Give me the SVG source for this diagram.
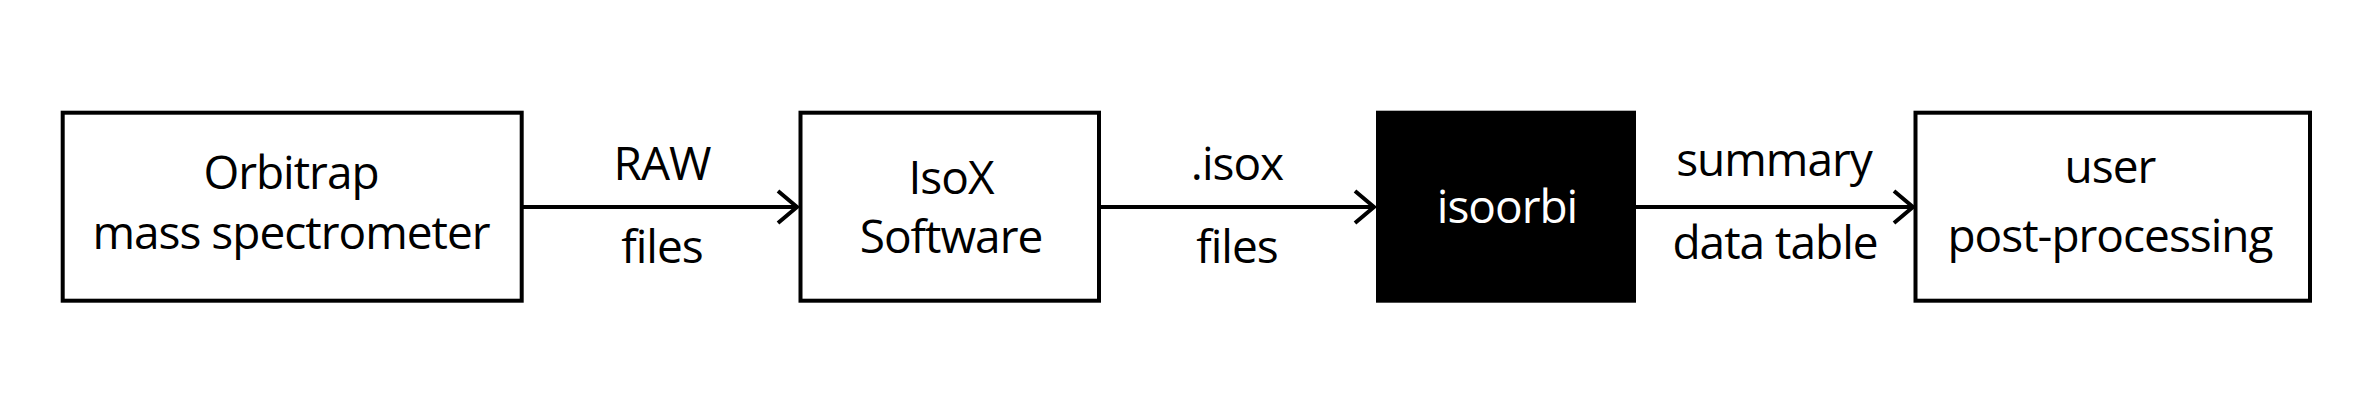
<svg xmlns="http://www.w3.org/2000/svg" width="2378" height="414" viewBox="0 0 2378 414">
  <style>
    .box { fill: #ffffff; stroke: #000000; stroke-width: 4; }
    .dark { fill: #000000; stroke: #000000; stroke-width: 4; }
    .t { font-family: "Open Sans", "Noto Sans", "Liberation Sans", sans-serif; font-size: 46px; letter-spacing: -1px; fill: #000000; text-anchor: middle; }
    .tw { fill: #ffffff; }
    .conn { stroke: #000000; stroke-width: 4; fill: none; }
  </style>
  <defs>
    <marker id="arrow" markerUnits="userSpaceOnUse" markerWidth="26" markerHeight="38" refX="21" refY="18" orient="auto" overflow="visible">
      <polyline points="2,2 21,18 2,34" fill="none" stroke="#000000" stroke-width="4" stroke-linejoin="miter"/>
    </marker>
  </defs>
  <rect width="2378" height="414" fill="#ffffff"/>

  <g id="connectors">
    <g id="edge-orbitrap-isox">
      <line class="conn" x1="522" y1="207" x2="797" y2="207" marker-end="url(#arrow)"/>
      <text class="t" x="662" y="180">RAW</text>
      <text class="t" x="662" y="263">files</text>
    </g>
    <g id="edge-isox-isoorbi">
      <line class="conn" x1="1100" y1="207" x2="1374" y2="207" marker-end="url(#arrow)"/>
      <text class="t" x="1237" y="180">.isox</text>
      <text class="t" x="1237" y="263">files</text>
    </g>
    <g id="edge-isoorbi-user">
      <line class="conn" x1="1636" y1="207" x2="1913" y2="207" marker-end="url(#arrow)"/>
      <text class="t" x="1774" y="176">summary</text>
      <text class="t" x="1775" y="259">data table</text>
    </g>
  </g>

  <g id="node-orbitrap">
    <rect class="box" x="62.7" y="112.7" width="459" height="188"/>
    <text class="t" x="291" y="189">Orbitrap</text>
    <text class="t" x="291" y="249">mass spectrometer</text>
  </g>

  <g id="node-isox">
    <rect class="box" x="800.5" y="112.7" width="298.5" height="188"/>
    <text class="t" x="951" y="194">IsoX</text>
    <text class="t" x="951" y="253">Software</text>
  </g>

  <g id="node-isoorbi">
    <rect class="dark" x="1378" y="112.7" width="256" height="188"/>
    <text class="t tw" x="1507" y="223">isoorbi</text>
  </g>

  <g id="node-user">
    <rect class="box" x="1915.5" y="112.7" width="394.5" height="188"/>
    <text class="t" x="2110" y="183">user</text>
    <text class="t" x="2110" y="252">post-processing</text>
  </g>
</svg>
